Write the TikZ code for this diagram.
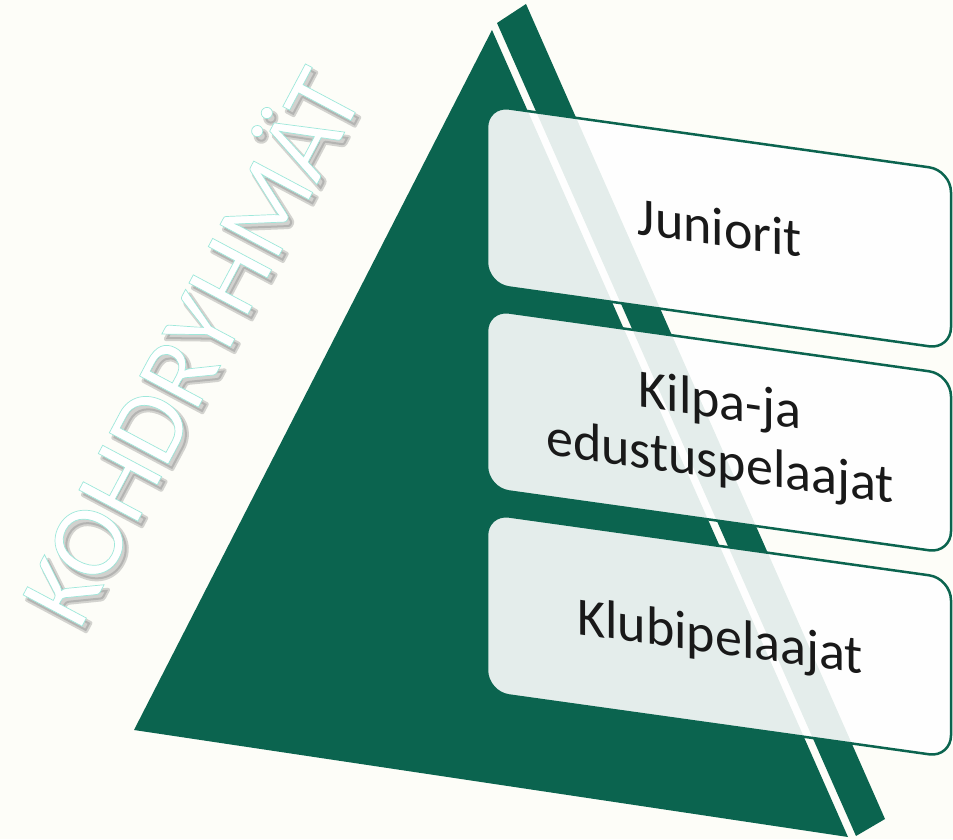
\documentclass[tikz,border=0pt]{standalone}
\usepackage{fontspec}
\setmainfont{Carlito}
\definecolor{bg}{RGB}{253,253,248}
\definecolor{pgreen}{RGB}{11,100,79}
\definecolor{txt}{RGB}{25,25,25}
\newcommand{\rimtext}[1]{\special{pdf:literal direct 2 Tr 0.7 w 0.62 0.91 0.86 RG}#1\special{pdf:literal direct 0 Tr}}
\newcommand{\shadowtext}[1]{\special{pdf:literal direct 2 Tr 4 w 1 j 0.45 0.45 0.45 RG}#1\special{pdf:literal direct 0 Tr}}
\begin{document}
\begin{tikzpicture}[x=1pt,y=1pt,
  boxshape/.style={draw=pgreen, line width=2.5pt, fill=white, fill opacity=0.89, rounded corners=22pt},
  boxtext/.style={font=\fontsize{54}{62}\selectfont, text=txt, anchor=base, inner sep=0pt, transform shape},
  titletext/.style={font=\fontsize{104}{104}\selectfont, anchor=base, inner sep=0pt, rotate=62}]
\useasboundingbox (0,0) rectangle (953,839);
\fill[bg] (0,0) rectangle (953,839);
% pyramid: front face and side face
\fill[pgreen] (492,809) -- (134,109) -- (848,2) -- cycle;
\fill[pgreen] (497,816) -- (526,835) -- (885,20) -- (856,3) -- cycle;
% title: soft shadow, then white letters with a thin rim
\node[titletext, text={rgb,255:red,110;green,110;blue,110}, text opacity=0.3] (shadow) at (226,471) {\shadowtext{KOHDRYHMÄT}};
\node[titletext, text=white] (title) at (222,476) {\rimtext{KOHDRYHMÄT}};
% boxes
\begin{scope}[shift={(487,733.6)}, yslant=-0.14]
  \path[boxshape] (0,0) rectangle (464,-179);
  \node[boxtext] (jun) at (233,-108) {Juniorit};
\end{scope}
\begin{scope}[shift={(487,529.6)}, yslant=-0.14]
  \path[boxshape] (0,0) rectangle (464,-179);
  \node[boxtext] (kil) at (233,-76) {Kilpa-ja};
  \node[boxtext] (edu) at (233,-137) {edustuspelaajat};
\end{scope}
\begin{scope}[shift={(487,325.6)}, yslant=-0.14]
  \path[boxshape] (0,0) rectangle (464,-179);
  \node[boxtext] (klu) at (233,-108) {Klubipelaajat};
\end{scope}
\end{tikzpicture}
\end{document}
